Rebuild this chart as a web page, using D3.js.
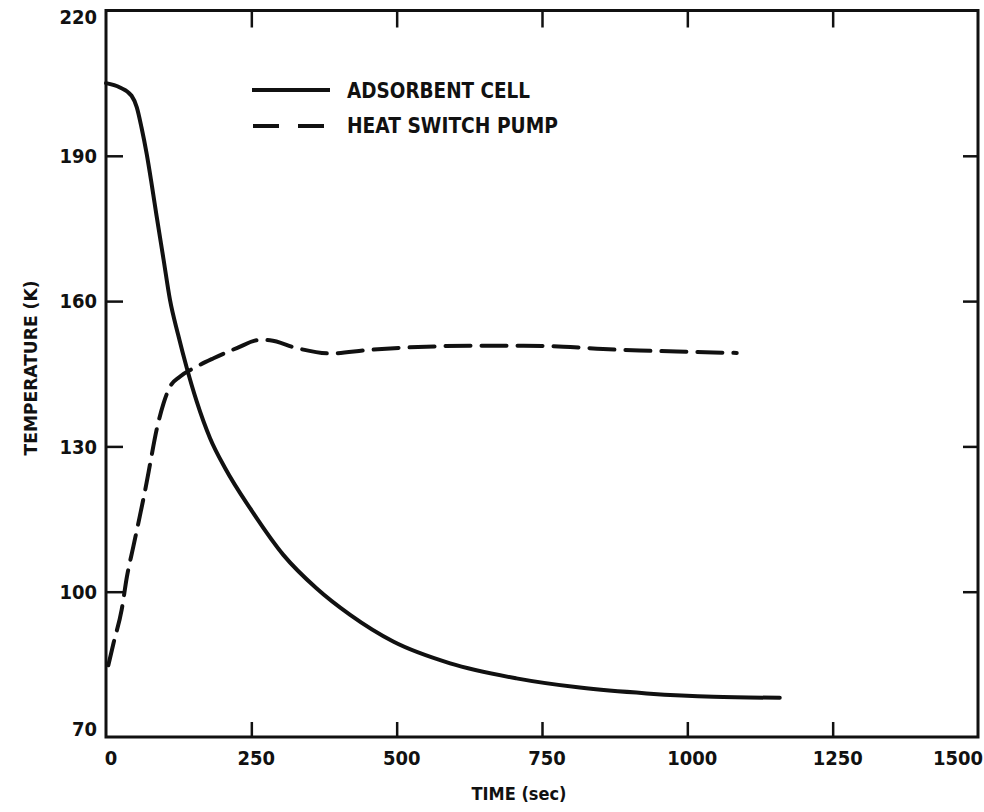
<!DOCTYPE html>
<html>
<head>
<meta charset="utf-8">
<script src="https://cdn.jsdelivr.net/npm/d3@7"></script>
<style>
  body { margin: 0; background: #fff; }
  text { font-family: "DejaVu Sans Condensed", "DejaVu Sans", sans-serif; font-stretch: condensed; font-weight: bold; fill: #111; }
</style>
</head>
<body>
<svg id="chart" width="984" height="812"></svg>
<script>
// values (time in sec, temperature in K)
const cellTime = [0, 24, 44, 53, 61, 70, 79, 87, 99, 110, 124, 139, 156, 179, 205, 248, 305, 362, 420, 494, 592, 706, 815, 930, 1045, 1159];
const cellTemp = [205.0, 204.1, 202.4, 200, 195.9, 190.4, 183.8, 177.6, 168.6, 160.3, 153.1, 146.2, 139.3, 131.7, 125.5, 117.2, 107.6, 100.7, 95.2, 89.7, 85.2, 82.1, 80.2, 79.0, 78.3, 78.1];

const pumpTime = [4, 13, 27, 36, 47, 58, 70, 76, 87, 99, 110, 127, 150, 185, 225, 265, 282, 328, 385, 451, 514, 580, 643, 718, 787, 855, 918, 982, 1045, 1085];
const pumpTemp = [84.8, 89.4, 96.3, 103.1, 109.3, 115.5, 122.6, 126.5, 133.4, 138.9, 142.3, 144.4, 146.1, 148.2, 150.3, 152.0, 151.9, 150.3, 149.2, 149.9, 150.4, 150.7, 150.8, 150.8, 150.6, 150.1, 149.8, 149.6, 149.4, 149.3];

const xTicks = [0, 250, 500, 750, 1000, 1250, 1500];
const yTicks = [70, 100, 130, 160, 190, 220];
const seriesNames = ["ADSORBENT CELL", "HEAT SWITCH PUMP"];

const svg = d3.select("#chart");
const m = {left: 106, right: 978, top: 10.5, bottom: 737};

const x = d3.scaleLinear().domain([0, 1500]).range([m.left, m.right]);
const y = d3.scaleLinear().domain([70, 220]).range([m.bottom, m.top]);

const innerX = xTicks.slice(1, -1), innerY = yTicks.slice(1, -1);

// inside ticks on all four sides
svg.append("g").attr("transform", `translate(0,${m.bottom})`)
  .call(d3.axisBottom(x).tickValues(innerX).tickSize(-15).tickFormat(""));
svg.append("g").attr("transform", `translate(0,${m.top})`)
  .call(d3.axisTop(x).tickValues(innerX).tickSize(-17).tickFormat(""));
svg.append("g").attr("transform", `translate(${m.left},0)`)
  .call(d3.axisLeft(y).tickValues(innerY).tickSize(-17).tickFormat(""));
svg.append("g").attr("transform", `translate(${m.right},0)`)
  .call(d3.axisRight(y).tickValues(innerY).tickSize(-15).tickFormat(""));
svg.selectAll(".domain").remove();
svg.selectAll(".tick line").attr("stroke", "#111").attr("stroke-width", 2.5);

svg.append("rect")
  .attr("x", m.left).attr("y", m.top)
  .attr("width", m.right - m.left).attr("height", m.bottom - m.top)
  .attr("fill", "none").attr("stroke", "#111").attr("stroke-width", 3);

// tick labels
svg.append("g").selectAll("text").data(xTicks).join("text")
  .attr("x", d => x(d) + (d === 0 ? 5 : d === 1500 ? -20 : 5))
  .attr("y", 765)
  .attr("text-anchor", "middle")
  .style("font-size", "20px")
  .text(d => d);

svg.append("g").selectAll("text").data(yTicks).join("text")
  .attr("x", 97)
  .attr("y", d => y(d) + (d === 220 ? 6 : d === 70 ? -8 : 0))
  .attr("dy", "0.36em")
  .attr("text-anchor", "end")
  .style("font-size", "20px")
  .text(d => d);

// axis titles
svg.append("text")
  .attr("x", 519).attr("y", 800)
  .attr("text-anchor", "middle")
  .style("font-size", "18px")
  .text("TIME (sec)");

svg.append("text")
  .attr("transform", "translate(37,368) rotate(-90)")
  .attr("text-anchor", "middle")
  .attr("textLength", 175).attr("lengthAdjust", "spacingAndGlyphs")
  .style("font-size", "18px")
  .text("TEMPERATURE (K)");

// curves
const line = d3.line().x(d => x(d[0])).y(d => y(d[1])).curve(d3.curveMonotoneX);

svg.append("path")
  .datum(d3.zip(cellTime, cellTemp))
  .attr("fill", "none").attr("stroke", "#111").attr("stroke-width", 4)
  .attr("stroke-linecap", "round").attr("stroke-linejoin", "round")
  .attr("d", line);

svg.append("path")
  .datum(d3.zip(pumpTime, pumpTemp))
  .attr("fill", "none").attr("stroke", "#111").attr("stroke-width", 4)
  .attr("stroke-dasharray", "25,11")
  .attr("stroke-linecap", "round").attr("stroke-linejoin", "round")
  .attr("d", line);

// legend
const legend = svg.append("g");
legend.append("line").attr("x1", 252).attr("x2", 330).attr("y1", 90).attr("y2", 90)
  .attr("stroke", "#111").attr("stroke-width", 4);
legend.append("line").attr("x1", 253).attr("x2", 327).attr("y1", 126).attr("y2", 126)
  .attr("stroke", "#111").attr("stroke-width", 4).attr("stroke-dasharray", "26,19");
legend.selectAll("text").data(seriesNames).join("text")
  .attr("x", 347)
  .attr("y", (d, i) => 98 + i * 35)
  .attr("textLength", (d, i) => i === 0 ? 183 : 211)
  .attr("lengthAdjust", "spacingAndGlyphs")
  .style("font-size", "22px")
  .text(d => d);
</script>
</body>
</html>
